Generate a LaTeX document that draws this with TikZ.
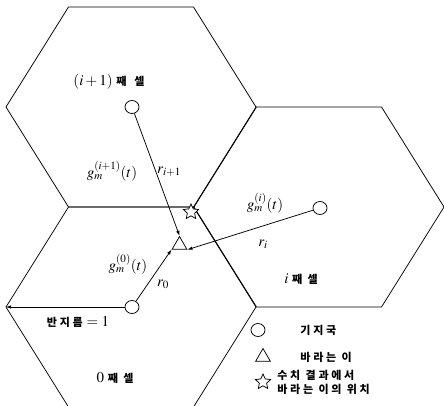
\documentclass[tikz,border=0pt]{standalone}
\usepackage{mathptmx}
\usepackage{fontspec}
\setmainfont{Liberation Serif}
\newfontfamily\kor[LetterSpace=25]{Noto Sans CJK KR}
\usetikzlibrary{shapes.geometric,arrows.meta}
\begin{document}
\begin{tikzpicture}[x=1pt,y=-1pt,line width=0.75pt,
  bs/.style={draw,ellipse,minimum width=14pt,minimum height=13pt,inner sep=0pt,fill=white},
  ms/.style={draw,regular polygon,regular polygon sides=3,minimum size=17pt,inner sep=0pt,fill=white},
  ps/.style={draw,star,star points=5,star point ratio=2.1,minimum size=16pt,inner sep=0pt,fill=white},
  arr/.style={-{Latex[length=5pt,width=3.5pt]}},
  mlab/.style={font=\fontsize{15}{17}\selectfont,inner sep=0pt},
  leg/.style={font=\fontsize{11}{14}\selectfont\kor\bfseries,inner sep=0pt,anchor=west,align=left}]
\useasboundingbox (0,0) rectangle (444,405);
\begin{scope}
\clip (0,0) rectangle (444,405);
\foreach \cx/\cy in {131/107,131/307,319/207}{
  \draw ({\cx-125},\cy) -- ({\cx-62.5},{\cy-100}) -- ({\cx+62.5},{\cy-100}) -- ({\cx+125},\cy)
     -- ({\cx+62.5},{\cy+100}) -- ({\cx-62.5},{\cy+100}) -- cycle;}
\end{scope}
\coordinate (lv) at (6,307);
% base stations
\node[bs] (c1) at (132,107) {};
\node[bs] (c2) at (320,208) {};
\node[bs] (c0) at (132,307) {};
% mobile and estimated position
\node[ms] (tri) at (179.5,245) {};
\node[ps] (st) at (191,212) {};
% connectors
\draw[arr] (c1) -- (tri.corner 1);
\draw[arr] (c2) -- (tri.corner 3);
\draw[arr] (c0) -- (tri.corner 2);
\draw[arr] (c0) -- (lv);
% labels
\node[mlab] (l1) at (109,82) {$(i+1)$ {\kor\bfseries\fontsize{11}{12}\selectfont 째\hspace{8pt}셀}};
\node[mlab] (g1) at (112,171) {$g_m^{(i+1)}(t)$};
\node[mlab] (r1) at (169,172) {$r_{i+1}$};
\node[mlab] (g2) at (265,203) {$g_m^{(i)}(t)$};
\node[mlab] (r2) at (263,244) {$r_i$};
\node[mlab] (g0) at (128,264) {$g_m^{(0)}(t)$};
\node[mlab] (r0) at (163,284) {$r_0$};
\node[mlab] (l2) at (301,279) {$i$ {\kor\bfseries\fontsize{11}{12}\selectfont 째 셀}};
\node[mlab] (l0) at (115,378) {$0$ {\kor\bfseries\fontsize{11}{12}\selectfont 째 셀}};
\node[mlab] (rad) at (78,322) {{\kor\bfseries\fontsize{11}{12}\selectfont 반지름} $=1$};
% legend
\node[bs] (k1) at (258,330) {};
\node[ms] (k2) at (263,357) {};
\node[ps] (k3) at (263,382) {};
\node[leg] (t1) at (300,330) {기지국};
\node[leg] (t2) at (300,357) {바라는 이};
\node[leg] (t3) at (277,382) {수치 결과에서\\바라는 이의 위치};
\end{tikzpicture}
\end{document}
